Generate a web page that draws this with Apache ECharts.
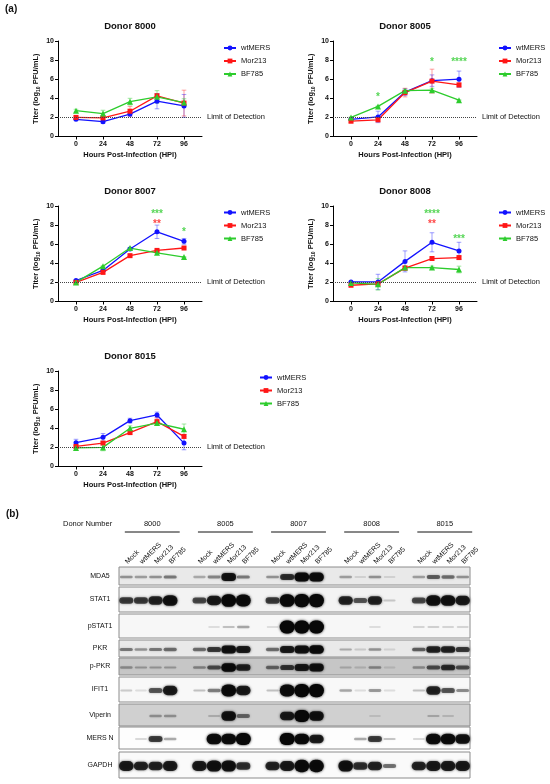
<!DOCTYPE html>
<html lang="en">
<head>
<meta charset="utf-8">
<title>MERS titers and western blot</title>
<script src="https://cdn.jsdelivr.net/npm/echarts@6.0.0/dist/echarts.min.js"></script>
<style>html,body{margin:0;background:#fff}</style>
</head>
<body>
<div id="fig" style="width:550px;height:784px;"></div>
<script>
// ---- (a) growth curves ----
var hpi = [0, 24, 48, 72, 96];
var viruses = ['wtMERS', 'Mor213', 'BF785'];
var donors = ['8000', '8005', '8007', '8008', '8015'];

// mean titer (log10 PFU/mL); rows: wtMERS, Mor213, BF785
var mean8000 = [[1.8, 1.55, 2.35, 3.7, 3.2], [2.0, 1.95, 2.65, 4.25, 3.5], [2.7, 2.4, 3.65, 4.15, 3.55]];
var mean8005 = [[1.8, 2.05, 4.65, 5.85, 6.0], [1.6, 1.75, 4.6, 5.8, 5.4], [2.0, 3.15, 4.8, 4.85, 3.8]];
var mean8007 = [[2.2, 3.25, 5.5, 7.3, 6.3], [2.0, 3.05, 4.8, 5.35, 5.6], [2.0, 3.7, 5.6, 5.1, 4.65]];
var mean8008 = [[2.05, 2.05, 4.2, 6.2, 5.3], [1.7, 1.85, 3.5, 4.5, 4.6], [1.95, 1.8, 3.55, 3.55, 3.35]];
var mean8015 = [[2.5, 3.05, 4.8, 5.4, 2.45], [2.1, 2.45, 3.55, 4.7, 3.15], [1.95, 2.0, 4.0, 4.55, 3.9]];

// error bar half-length
var sd8000 = [[0.1, 0.15, 0.25, 0.8, 1.2], [0.1, 0.15, 0.5, 0.25, 1.35], [0.15, 0.35, 0.35, 0.65, 0.4]];
var sd8005 = [[0.1, 0.6, 0.35, 0.6, 0.85], [0.1, 0.2, 0.45, 1.25, 0.2], [0.05, 0.05, 0.1, 0.2, 0.05]];
var sd8007 = [[0.1, 0.15, 0.1, 0.7, 0.3], [0.05, 0.15, 0.1, 0.1, 0.1], [0.05, 0.05, 0.05, 0.05, 0.05]];
var sd8008 = [[0.05, 0.8, 1.1, 1.0, 0.9], [0.05, 0.1, 0.25, 0.15, 0.15], [0.05, 0.6, 0.1, 0.15, 0.35]];
var sd8015 = [[0.35, 0.4, 0.25, 0.3, 0.7], [0.1, 0.15, 0.2, 0.4, 0.2], [0.05, 0.35, 0.25, 0.2, 0.55]];

// significance marks: [hpi, titer, mark, virus]
var stars8000 = [];
var stars8005 = [[24, 4.4, '*', 'BF785'], [72, 8.0, '*', 'BF785'], [96, 8.0, '****', 'BF785']];
var stars8007 = [[72, 9.35, '***', 'BF785'], [72, 8.4, '**', 'Mor213'], [96, 7.55, '*', 'BF785']];
var stars8008 = [[72, 9.35, '****', 'BF785'], [72, 8.4, '**', 'Mor213'], [96, 6.8, '***', 'BF785']];
var stars8015 = [];

var limitOfDetection = 2;

// ---- (b) western blot, band strength 0..1 per lane ----
var conditions = ['Mock', 'wtMERS', 'Mor213', 'BF785'];
var proteins = ['MDA5', 'STAT1', 'pSTAT1', 'PKR', 'p-PKR', 'IFIT1', 'Viperin', 'MERS N', 'GAPDH'];
var bandMDA5   = [0.35, 0.3, 0.35, 0.45,  0.25, 0.4, 0.9, 0.45,  0.35, 0.75, 0.95, 0.95,  0.3, 0.05, 0.35, 0.05,  0.3, 0.55, 0.5, 0.35];
var bandSTAT1  = [0.7, 0.7, 0.8, 0.9,  0.65, 0.85, 0.98, 0.95,  0.7, 0.98, 1, 1,  0.8, 0.6, 0.8, 0.15,  0.65, 0.9, 0.9, 0.85];
var bandPSTAT1 = [0, 0, 0, 0,  0, 0.05, 0.2, 0.3,  0.05, 1, 1, 1,  0, 0, 0.05, 0,  0.1, 0.12, 0.1, 0.1];
var bandPKR    = [0.45, 0.35, 0.45, 0.5,  0.5, 0.7, 0.9, 0.85,  0.5, 0.85, 0.9, 0.95,  0.25, 0.1, 0.35, 0.05,  0.55, 0.8, 0.8, 0.7];
var bandPPKR   = [0.3, 0.25, 0.25, 0.25,  0.35, 0.6, 0.95, 0.8,  0.5, 0.7, 0.85, 0.9,  0.15, 0.1, 0.35, 0.05,  0.3, 0.6, 0.75, 0.6];
var bandIFIT1  = [0.15, 0.05, 0.6, 0.85,  0.2, 0.45, 0.95, 0.85,  0.2, 0.95, 1, 1,  0.3, 0.05, 0.35, 0.05,  0.2, 0.8, 0.6, 0.4];
var bandViperin= [0, 0, 0.3, 0.3,  0, 0.15, 0.9, 0.5,  0, 0.85, 1, 0.9,  0, 0, 0.05, 0,  0, 0.2, 0.1, 0];
var bandMERSN  = [0, 0.1, 0.7, 0.3,  0, 0.95, 0.95, 1,  0, 1, 0.95, 0.85,  0, 0.3, 0.7, 0.2,  0.1, 0.95, 0.95, 0.9];
var bandGAPDH  = [0.85, 0.8, 0.8, 0.85,  0.85, 0.9, 0.9, 0.75,  0.8, 0.85, 0.95, 0.95,  0.9, 0.75, 0.8, 0.5,  0.8, 0.85, 0.85, 0.85];
var bands = [bandMDA5, bandSTAT1, bandPSTAT1, bandPKR, bandPPKR, bandIFIT1, bandViperin, bandMERSN, bandGAPDH];

// ---- layout & style ----
var FONT = 'Liberation Sans, Arial, sans-serif';
var colors = ['#1212ff', '#ff1616', '#2dcc2d'];
var errColors = ['rgba(18,18,255,0.4)', 'rgba(255,22,22,0.4)', 'rgba(45,204,45,0.45)'];
var symbols = ['circle', 'rect', 'triangle'];
var symbolSizes = [5, 5, 6];
var panelBox = [
  { left: 58, top: 41, legendLeft: 223, legendTop: 43.5 },
  { left: 333, top: 41, legendLeft: 498, legendTop: 43.5 },
  { left: 58, top: 206, legendLeft: 223, legendTop: 208 },
  { left: 333, top: 206, legendLeft: 498, legendTop: 208 },
  { left: 58, top: 371, legendLeft: 259, legendTop: 373 }
];
var PW = 144, PH = 95.5;
// membrane strips, px from blot top
var rowSpans = [[0, 18], [20, 45], [47, 71], [73, 90], [91, 108], [110, 135], [137, 159], [160, 182], [185, 211]];
var membraneShade = ['#e9e9e9', '#f3f3f3', '#f7f7f7', '#e9e9e9', '#c6c6c6', '#f8f8f8', '#d0d0d0', '#fdfdfd', '#fafafa'];

var means = [mean8000, mean8005, mean8007, mean8008, mean8015];
var sds = [sd8000, sd8005, sd8007, sd8008, sd8015];
var stars = [stars8000, stars8005, stars8007, stars8008, stars8015];

var chart = echarts.init(document.getElementById('fig'), null, { renderer: 'canvas' });

var grid = [], xAxis = [], yAxis = [], title = [], legend = [], series = [];

function errRenderer(color) {
  return function (params, api) {
    var x = api.value(0), m = api.value(1), s = api.value(2);
    var lo = api.coord([x, m - s]), hi = api.coord([x, m + s]);
    var w = 2.3, st = { stroke: color, lineWidth: 1 };
    return {
      type: 'group',
      children: [
        { type: 'line', shape: { x1: lo[0], y1: lo[1], x2: hi[0], y2: hi[1] }, style: st },
        { type: 'line', shape: { x1: hi[0] - w, y1: hi[1], x2: hi[0] + w, y2: hi[1] }, style: st },
        { type: 'line', shape: { x1: lo[0] - w, y1: lo[1], x2: lo[0] + w, y2: lo[1] }, style: st }
      ]
    };
  };
}

donors.forEach(function (donor, p) {
  var b = panelBox[p];
  grid.push({ left: b.left, top: b.top, width: PW, height: PH });
  title.push({
    text: 'Donor ' + donor, left: b.left + PW / 2, top: b.top - 20, textAlign: 'center', padding: 0,
    textStyle: { fontSize: 9.5, fontWeight: 'bold', color: '#111', fontFamily: FONT }
  });
  xAxis.push({
    type: 'value', gridIndex: p, min: -16, max: 112,
    axisLine: { onZero: false, lineStyle: { color: '#000', width: 1 } },
    axisTick: { customValues: hpi, length: 3, lineStyle: { color: '#000' } },
    axisLabel: { customValues: hpi, fontSize: 7, fontWeight: 'bold', color: '#111', margin: 4, fontFamily: FONT },
    splitLine: { show: false },
    name: 'Hours Post-Infection (HPI)', nameLocation: 'middle', nameGap: 14,
    nameTextStyle: { fontSize: 7.5, fontWeight: 'bold', color: '#111', fontFamily: FONT }
  });
  yAxis.push({
    type: 'value', gridIndex: p, min: 0, max: 10, interval: 2,
    axisLine: { show: true, onZero: false, lineStyle: { color: '#000', width: 1 } },
    axisTick: { show: true, length: 3, lineStyle: { color: '#000' } },
    axisLabel: { fontSize: 7, fontWeight: 'bold', color: '#111', margin: 4, fontFamily: FONT },
    splitLine: { show: false },
    name: 'Titer (log{s|10} PFU/mL)', nameLocation: 'middle', nameGap: 17, nameRotate: 90,
    nameTextStyle: {
      fontSize: 7.5, fontWeight: 'bold', color: '#111', fontFamily: FONT, lineHeight: 10,
      rich: { s: { fontSize: 5, fontWeight: 'bold', color: '#111', fontFamily: FONT, verticalAlign: 'bottom', lineHeight: 10 } }
    }
  });
  legend.push({
    data: viruses, orient: 'vertical', left: b.legendLeft, top: b.legendTop,
    itemWidth: 12, itemHeight: 6, itemGap: 4, padding: 0,
    textStyle: { fontSize: 7.5, color: '#111', fontFamily: FONT, lineHeight: 9 }
  });

  viruses.forEach(function (v, k) {
    var line = {
      name: v, type: 'line', xAxisIndex: p, yAxisIndex: p, z: 4,
      data: hpi.map(function (h, i) { return [h, means[p][k][i]]; }),
      symbol: symbols[k], symbolSize: symbolSizes[k], showSymbol: true,
      itemStyle: { color: colors[k] },
      lineStyle: { color: colors[k], width: 1.3 }
    };
    if (k === 0) {
      line.markLine = {
        silent: true, symbol: ['none', 'none'], animation: false,
        data: [{ yAxis: limitOfDetection }],
        lineStyle: { type: 'dotted', color: '#444', width: 1 },
        label: { position: 'end', distance: 5, formatter: 'Limit of Detection', fontSize: 7.5, color: '#111', fontFamily: FONT }
      };
    }
    series.push(line);
    series.push({
      type: 'custom', xAxisIndex: p, yAxisIndex: p, z: 3, silent: true,
      renderItem: errRenderer(errColors[k]),
      encode: { x: 0, y: 1 },
      data: hpi.map(function (h, i) { return [h, means[p][k][i], sds[p][k][i]]; })
    });
  });

  if (stars[p].length) {
    series.push({
      type: 'scatter', xAxisIndex: p, yAxisIndex: p, symbolSize: 0, silent: true, z: 5,
      data: stars[p].map(function (s) {
        return {
          value: [s[0], s[1], s[2]],
          label: { color: colors[viruses.indexOf(s[3])] }
        };
      }),
      label: {
        show: true, position: 'inside', offset: [0, 2.5],
        formatter: function (d) { return d.value[2]; },
        fontSize: 10, fontWeight: 'bold', fontFamily: FONT
      }
    });
  }
});

// ---- blot grid ----
var laneSlots = [], laneOfSlot = [];
donors.forEach(function (d, g) {
  conditions.forEach(function (c, j) { laneSlots.push(c); laneOfSlot.push(g * 4 + j); });
  if (g < donors.length - 1) { laneSlots.push(''); laneOfSlot.push(-1); }
});
var B = 5;
grid.push({ left: 119, top: 567, width: 351, height: 211 });
xAxis.push({
  type: 'category', gridIndex: B, position: 'top', data: laneSlots,
  axisLine: { show: false }, axisTick: { show: false }, splitLine: { show: false },
  axisLabel: { interval: 0, rotate: 45, fontSize: 7, color: '#111', margin: 4, fontFamily: FONT }
});
yAxis.push({ type: 'value', gridIndex: B, min: 0, max: 211, inverse: true, show: false });

// membrane strips with protein names
series.push({
  type: 'custom', xAxisIndex: B, yAxisIndex: B, z: 1, silent: true, clip: false,
  encode: { x: 0, y: 0 },
  data: proteins.map(function (n, i) { return [i]; }),
  renderItem: function (params, api) {
    var i = api.value(0), cs = params.coordSys;
    var y0 = api.coord([0, rowSpans[i][0]])[1], y1 = api.coord([0, rowSpans[i][1]])[1];
    return {
      type: 'group',
      children: [
        { type: 'rect', shape: { x: cs.x, y: y0, width: cs.width, height: y1 - y0 },
          style: { fill: membraneShade[i], stroke: '#8c8c8c', lineWidth: 1 } },
        { type: 'text', style: { text: proteins[i], x: cs.x - 19, y: (y0 + y1) / 2, align: 'center', verticalAlign: 'middle',
          fontSize: 7, fill: '#111', fontFamily: FONT } }
      ]
    };
  }
});

// bands
var bandData = [];
laneOfSlot.forEach(function (lane, slot) {
  if (lane < 0) return;
  bands.forEach(function (row, r) {
    if (row[lane] > 0) bandData.push([slot, r, row[lane]]);
  });
});
series.push({
  type: 'custom', xAxisIndex: B, yAxisIndex: B, z: 2, silent: true, clip: false,
  encode: { x: 0, y: 1 },
  data: bandData,
  renderItem: function (params, api) {
    var slot = api.value(0), r = api.value(1), s = api.value(2);
    var span = rowSpans[r];
    var cx = api.coord([slot, 0])[0];
    var cy = api.coord([0, (span[0] + span[1]) / 2 + 1])[1];
    var rh = span[1] - span[0];
    var w = 11.5 + 3.5 * s, h = 2 + Math.pow(s, 2.5) * rh * 0.45;
    var a = Math.min(1, 0.08 + 0.92 * Math.pow(s, 1.2));
    var c = 'rgba(8,8,8,' + a.toFixed(3) + ')';
    return {
      type: 'rect',
      shape: { x: cx - w / 2, y: cy - h / 2, width: w, height: h, r: h / 2 },
      style: { fill: c, shadowBlur: 2.5, shadowColor: c }
    };
  }
});

// donor group headers
series.push({
  type: 'custom', xAxisIndex: B, yAxisIndex: B, z: 2, silent: true, clip: false,
  encode: { x: 0, y: 0 },
  data: donors.map(function (d, g) { return [g * 5]; }),
  renderItem: function (params, api) {
    var first = api.value(0), cs = params.coordSys;
    var x1 = api.coord([first, 0])[0] - 1.5, x2 = api.coord([first + 3, 0])[0] + 9.5;
    var yl = cs.y - 35;
    return {
      type: 'group',
      children: [
        { type: 'line', shape: { x1: x1, y1: yl, x2: x2, y2: yl }, style: { stroke: '#111', lineWidth: 1 } },
        { type: 'text', style: { text: donors[params.dataIndex], x: (x1 + x2) / 2, y: yl - 8, align: 'center', verticalAlign: 'middle',
          fontSize: 7.5, fill: '#111', fontFamily: FONT } }
      ]
    };
  }
});

chart.setOption({
  animation: false,
  backgroundColor: '#fff',
  textStyle: { fontFamily: FONT },
  title: title,
  legend: legend,
  grid: grid,
  xAxis: xAxis,
  yAxis: yAxis,
  series: series,
  graphic: [
    { type: 'text', left: 5, top: 4, style: { text: '(a)', fontSize: 10, fontWeight: 'bold', fill: '#111', fontFamily: FONT } },
    { type: 'text', left: 6, top: 509, style: { text: '(b)', fontSize: 10, fontWeight: 'bold', fill: '#111', fontFamily: FONT } },
    { type: 'text', left: 63, top: 520, style: { text: 'Donor Number', fontSize: 7.5, fill: '#111', fontFamily: FONT } }
  ]
});
</script>
</body>
</html>
